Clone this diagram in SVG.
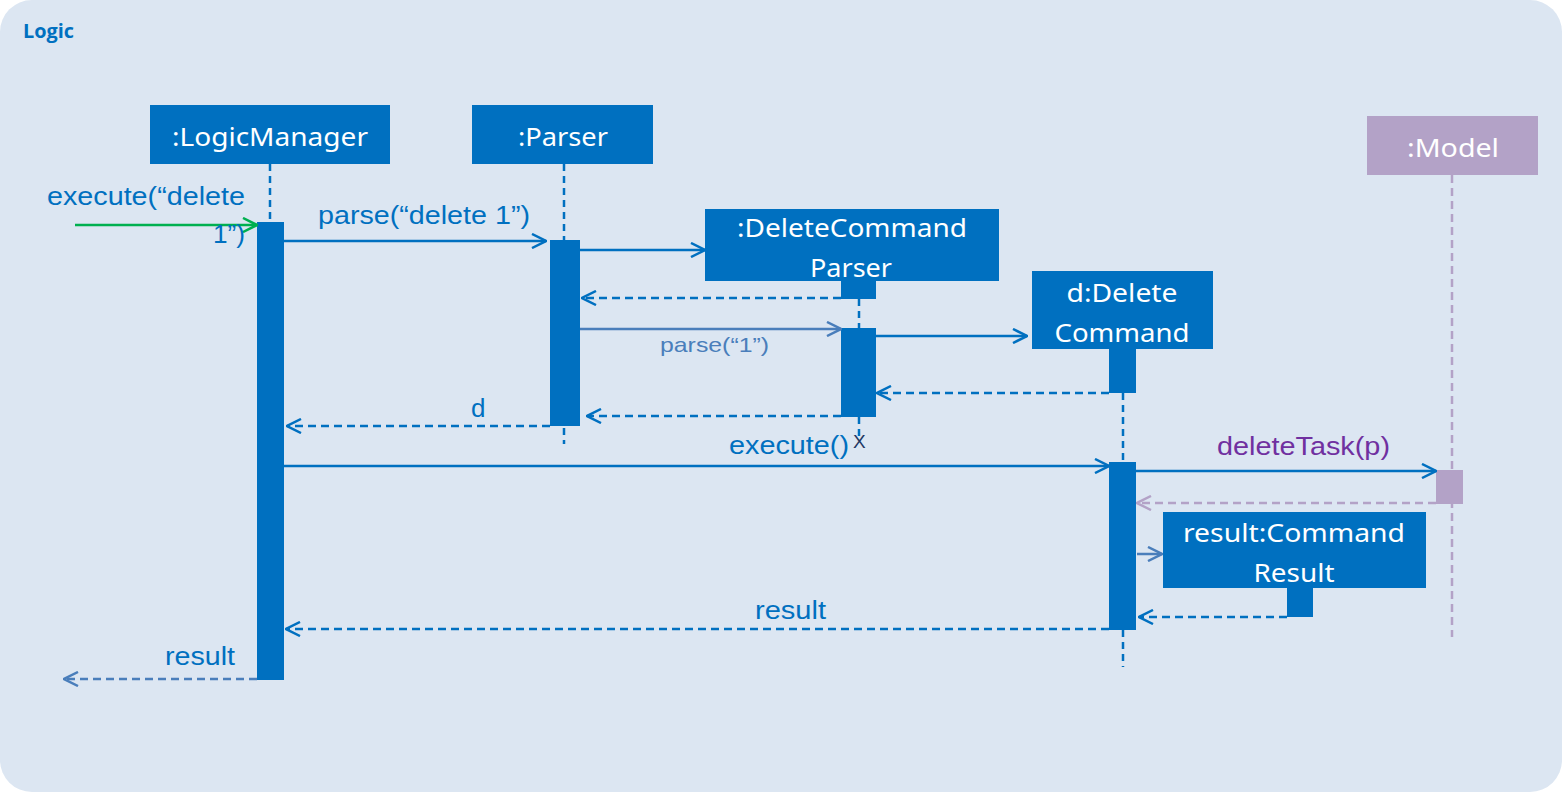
<svg xmlns="http://www.w3.org/2000/svg" width="1562" height="792" viewBox="0 0 1562 792">
<style>
.box{fill:#0070c0}
.mbox{fill:#b3a2c7}
.bt{font-family:"Noto Sans","Open Sans",sans-serif;font-size:26px;fill:#ffffff;text-anchor:middle}
.lbl{font-family:"Liberation Sans",Arial,sans-serif;font-size:26px;fill:#0070c0}
.life{stroke:#0070c0;stroke-width:2.5;stroke-dasharray:7,5;fill:none}
.msg{stroke:#0070c0;stroke-width:2.5;fill:none;marker-end:url(#ab)}
.msgl{stroke:#4a7ebb;stroke-width:2.5;fill:none;marker-end:url(#al)}
.ret{stroke:#0070c0;stroke-width:2.5;stroke-dasharray:8,5;fill:none;marker-end:url(#ab)}
</style>
<defs>
<marker id="ab" viewBox="0 0 16 16" markerWidth="16" markerHeight="16" refX="15" refY="8" orient="auto" markerUnits="userSpaceOnUse"><path d="M1,1 L15,8 L1,15" fill="none" stroke="#0070c0" stroke-width="2.5"/></marker>
<marker id="al" viewBox="0 0 16 16" markerWidth="16" markerHeight="16" refX="15" refY="8" orient="auto" markerUnits="userSpaceOnUse"><path d="M1,1 L15,8 L1,15" fill="none" stroke="#4a7ebb" stroke-width="2.5"/></marker>
<marker id="ag" viewBox="0 0 16 16" markerWidth="16" markerHeight="16" refX="15" refY="8" orient="auto" markerUnits="userSpaceOnUse"><path d="M1,1 L15,8 L1,15" fill="none" stroke="#00b050" stroke-width="2.5"/></marker>
<marker id="ap" viewBox="0 0 16 16" markerWidth="16" markerHeight="16" refX="15" refY="8" orient="auto" markerUnits="userSpaceOnUse"><path d="M1,1 L15,8 L1,15" fill="none" stroke="#b3a2c7" stroke-width="2.5"/></marker>
</defs>
<rect x="0" y="0" width="1562" height="792" fill="#ffffff"/>
<rect x="0" y="0" width="1562" height="792" rx="32" ry="32" fill="#dce6f2"/>
<text x="23" y="38" font-family="'Open Sans','Noto Sans',sans-serif" font-size="19" font-weight="bold" fill="#0070c0" textLength="51" lengthAdjust="spacingAndGlyphs">Logic</text>

<g id="lifelines">
<line class="life" x1="270" y1="164" x2="270" y2="222"/>
<line class="life" x1="564" y1="164" x2="564" y2="444"/>
<line class="life" x1="859" y1="299" x2="859" y2="328"/>
<line class="life" x1="859" y1="417" x2="859" y2="440"/>
<line class="life" x1="1123" y1="393" x2="1123" y2="462"/>
<line class="life" x1="1123" y1="630" x2="1123" y2="667"/>
<line x1="1452" y1="175" x2="1452" y2="637" stroke="#b3a2c7" stroke-width="2.5" stroke-dasharray="8,5"/>
</g>

<g id="LogicManager">
<rect class="box" x="150" y="105" width="240" height="59"/>
<text class="bt" x="270" y="146" textLength="196" lengthAdjust="spacingAndGlyphs">:LogicManager</text>
<rect class="box" x="257" y="222" width="27" height="458"/>
</g>

<g id="Parser">
<rect class="box" x="472" y="105" width="181" height="59"/>
<text class="bt" x="563" y="146" textLength="90" lengthAdjust="spacingAndGlyphs">:Parser</text>
<rect class="box" x="550" y="240" width="30" height="186"/>
</g>

<g id="DeleteCommandParser">
<rect class="box" x="705" y="209" width="294" height="72"/>
<text class="bt" x="852" y="237" textLength="230" lengthAdjust="spacingAndGlyphs">:DeleteCommand</text>
<text class="bt" x="851" y="277" textLength="82" lengthAdjust="spacingAndGlyphs">Parser</text>
<rect class="box" x="841" y="281" width="35" height="18"/>
<rect class="box" x="841" y="328" width="35" height="89"/>
<text x="853" y="448" font-family="'Liberation Sans',Arial,sans-serif" font-size="19" fill="#1f3864">X</text>
</g>

<g id="DeleteCommand">
<rect class="box" x="1032" y="271" width="181" height="78"/>
<text class="bt" x="1122" y="302" textLength="111" lengthAdjust="spacingAndGlyphs">d:Delete</text>
<text class="bt" x="1122" y="342" textLength="135" lengthAdjust="spacingAndGlyphs">Command</text>
<rect class="box" x="1109" y="349" width="27" height="44"/>
<rect class="box" x="1109" y="462" width="27" height="168"/>
</g>

<g id="Model">
<rect class="mbox" x="1367" y="116" width="171" height="59"/>
<text class="bt" x="1453" y="157" textLength="92" lengthAdjust="spacingAndGlyphs">:Model</text>
<rect class="mbox" x="1436" y="470" width="27" height="34"/>
</g>

<g id="CommandResult">
<rect class="box" x="1163" y="512" width="263" height="76"/>
<text class="bt" x="1294" y="542" textLength="222" lengthAdjust="spacingAndGlyphs">result:Command</text>
<text class="bt" x="1294" y="582" textLength="81" lengthAdjust="spacingAndGlyphs">Result</text>
<rect class="box" x="1287" y="588" width="26" height="29"/>
</g>

<g id="connectors">
<line x1="75" y1="225" x2="257" y2="225" stroke="#00b050" stroke-width="2.5" marker-end="url(#ag)"/>
<line class="msg" x1="284" y1="241" x2="546" y2="241"/>
<line class="msg" x1="580" y1="250" x2="705" y2="250"/>
<line class="ret" x1="841" y1="298" x2="582" y2="298"/>
<line class="msgl" x1="580" y1="329" x2="841" y2="329"/>
<line class="msg" x1="876" y1="336" x2="1027" y2="336"/>
<line class="ret" x1="1109" y1="393" x2="877" y2="393"/>
<line class="ret" x1="841" y1="416" x2="587" y2="416"/>
<line class="ret" x1="550" y1="426" x2="287" y2="426"/>
<line class="msg" x1="284" y1="466" x2="1109" y2="466"/>
<line class="msg" x1="1136" y1="471" x2="1436" y2="471"/>
<line x1="1436" y1="503" x2="1137" y2="503" stroke="#b3a2c7" stroke-width="2.5" stroke-dasharray="8,5" marker-end="url(#ap)"/>
<line class="msgl" x1="1137" y1="554" x2="1162" y2="554"/>
<line class="ret" x1="1287" y1="617" x2="1139" y2="617"/>
<line class="ret" x1="1109" y1="629" x2="286" y2="629"/>
<line x1="257" y1="679" x2="64" y2="679" stroke="#4a7ebb" stroke-width="2.5" stroke-dasharray="8,5" marker-end="url(#al)"/>
</g>

<g id="labels">
<text class="lbl" x="47" y="205" textLength="198" lengthAdjust="spacingAndGlyphs">execute(“delete</text>
<text class="lbl" x="213" y="243" textLength="32" lengthAdjust="spacingAndGlyphs">1”)</text>
<text class="lbl" x="318" y="224" textLength="212" lengthAdjust="spacingAndGlyphs">parse(“delete 1”)</text>
<text class="lbl" x="660" y="352" textLength="109" lengthAdjust="spacingAndGlyphs" style="font-size:21px;fill:#4a7ebb">parse(“1”)</text>
<text class="lbl" x="471" y="417">d</text>
<text class="lbl" x="729" y="454" textLength="120" lengthAdjust="spacingAndGlyphs">execute()</text>
<text class="lbl" x="1217" y="455" textLength="173" lengthAdjust="spacingAndGlyphs" style="fill:#7030a0">deleteTask(p)</text>
<text class="lbl" x="755" y="619" textLength="71" lengthAdjust="spacingAndGlyphs">result</text>
<text class="lbl" x="165" y="665" textLength="70" lengthAdjust="spacingAndGlyphs">result</text>
</g>
</svg>
